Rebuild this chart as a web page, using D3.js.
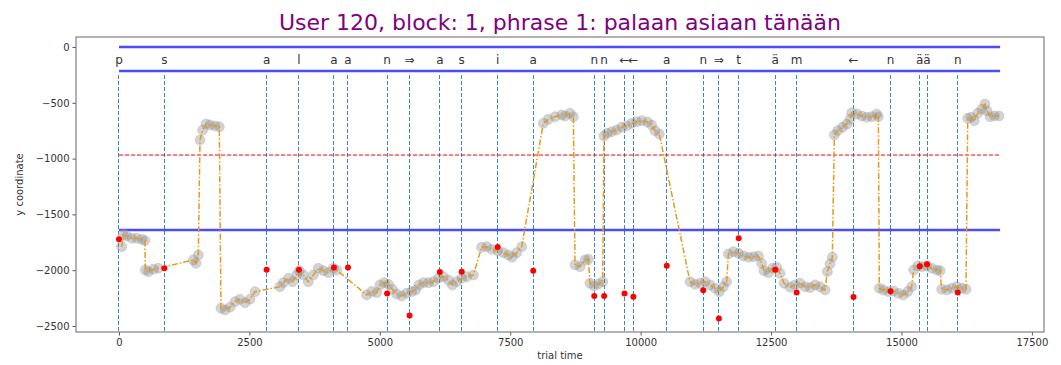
<!doctype html>
<meta charset="utf-8">
<script src="https://d3js.org/d3.v7.min.js"></script>
<style>
  body { margin: 0; background: #fff; }
  text { font-family: "DejaVu Sans", sans-serif; }
</style>
<body></body>
<script>

var width = 1061;
var height = 365;
var margin = {left: 76, right: 17, top: 37, bottom: 33};

// key presses: time, label, y of the touch
var keyTimes = [0, 870, 2830, 3450, 4120, 4390, 5140, 5570, 6150, 6570, 7260, 7940,
  9110, 9300, 9690, 9860, 10500, 11200, 11500, 11880, 12580, 12990, 14080, 14790, 15350, 15490, 16080];
var keyLabels = ["p", "s", "a", "l", "a", "a", "n", "⇒", "a", "s", "i", "a",
  "n", "n", "←", "←", "a", "n", "⇒", "t", "ä", "m", "←", "n", "ä", "ä", "n"];
var keyY = [-1722, -1983, -1995, -1995, -1977, -1977, -2210, -2405, -2016, -2013, -1792, -2004,
  -2231, -2231, -2210, -2237, -1960, -2180, -2434, -1714, -1995, -2201, -2240, -2189, -1965, -1947, -2201];

// gaze trace
var traceT = [51, 83, 147, 243, 339, 435, 498, 505, 562, 658, 754, 1425, 1476, 1521,
  1553, 1604, 1668, 1744, 1840, 1923, 1955, 2032, 2128, 2224, 2320, 2415, 2511, 2607,
  3086, 3150, 3246, 3329, 3406, 3457, 3534, 3629, 3725, 3821, 3917, 4013, 4108, 4172,
  4748, 4844, 4940, 5003, 5086, 5163, 5240, 5323, 5419, 5515, 5611, 5688, 5751, 5834,
  5930, 6025, 6121, 6217, 6313, 6390, 6473, 6569, 6665, 6793, 6952, 7048, 7144, 7259,
  7368, 7464, 7540, 7624, 7720, 8134, 8230, 8358, 8486, 8550, 8646, 8710, 8742, 8838,
  8933, 8997, 9029, 9106, 9189, 9273, 9297, 9361, 9445, 9540, 9636, 9732, 9828, 9924,
  10020, 10128, 10212, 10275, 10358, 10946, 11042, 11138, 11234, 11330, 11426, 11509,
  11585, 11649, 11681, 11777, 11873, 11969, 12065, 12160, 12256, 12320, 12364, 12448,
  12531, 12608, 12672, 12748, 12863, 12959, 13055, 13151, 13247, 13343, 13439, 13535,
  13579, 13630, 13675, 13713, 13777, 13866, 13949, 14013, 14045, 14141, 14237, 14333,
  14429, 14525, 14557, 14575, 14652, 14748, 14844, 14940, 15035, 15119, 15196, 15234,
  15311, 15400, 15484, 15580, 15676, 15739, 15771, 15867, 15963, 16059, 16155, 16237,
  16270, 16333, 16397, 16461, 16538, 16601, 16640, 16697, 16780, 16870];
var traceY = [-1789, -1684, -1693, -1714, -1714, -1723, -1735, -1998, -2013, -1992, -1983, -1908, -1938, -1864,
  -833, -744, -690, -699, -708, -714, -2341, -2356, -2332, -2282, -2261, -2291, -2261, -2193,
  -2148, -2112, -2073, -2103, -2043, -2004, -2043, -2103, -2043, -1983, -2004, -2022, -1983, -1998,
  -2222, -2192, -2201, -2132, -2112, -2126, -2171, -2213, -2231, -2207, -2192, -2177, -2132, -2112,
  -2112, -2103, -2073, -2058, -2088, -2132, -2103, -2073, -2058, -2043, -1795, -1789, -1813, -1825,
  -1843, -1864, -1884, -1843, -1789, -684, -648, -624, -609, -618, -594, -624, -1953, -1968,
  -1908, -1902, -2117, -2141, -2124, -2103, -797, -773, -759, -744, -719, -708, -684, -669,
  -660, -672, -699, -750, -780, -2103, -2126, -2117, -2103, -2132, -2162, -2192,
  -2148, -2103, -1855, -1834, -1849, -1873, -1884, -1879, -1873, -1938, -2004, -2022,
  -1983, -1974, -2028, -2117, -2153, -2132, -2117, -2148, -2156, -2132, -2148, -2177,
  -2013, -1944, -1884, -788, -750, -720, -693, -648, -589, -600, -618, -630,
  -624, -600, -624, -2162, -2177, -2192, -2186, -2207, -2222, -2192, -2148, -1998,
  -1962, -1968, -1962, -1983, -1998, -2004, -2171, -2177, -2162, -2148, -2162, -2171,
  -639, -630, -660, -594, -558, -511, -571, -624, -618, -618];

var boundaryY = [0, -215, -1640];
var midY = -968;
var lineEnd = 16890;

var xTicks = [0, 2500, 5000, 7500, 10000, 12500, 15000, 17500];
var yTicks = [0, -500, -1000, -1500, -2000, -2500];

var x = d3.scaleLinear()
        .domain([-824, 17732])
        .range([margin.left, width - margin.right]);
var y = d3.scaleLinear()
        .domain([90, -2554])
        .range([margin.top, height - margin.bottom]);

var svg = d3.select("body")
        .append("svg")
        .attr("width", width)
        .attr("height", height);

svg.append("defs").append("clipPath")
        .attr("id", "plot")
        .append("rect")
        .attr("x", margin.left)
        .attr("y", margin.top)
        .attr("width", width - margin.left - margin.right)
        .attr("height", height - margin.top - margin.bottom);

var g = svg.append("g").attr("clip-path", "url(#plot)");

// vertical key press lines
g.selectAll(".key")
        .data(keyTimes)
        .enter().append("line")
        .attr("x1", d => x(d)).attr("x2", d => x(d))
        .attr("y1", y(-250)).attr("y2", y(-2600))
        .attr("shape-rendering", "crispEdges")
        .style("stroke", "#3a86c0")
        .style("stroke-width", 1)
        .style("stroke-dasharray", "4,2");

// key labels
g.selectAll(".lab")
        .data(keyTimes)
        .enter().append("text")
        .attr("x", d => x(d))
        .attr("y", y(-110))
        .attr("dy", "0.35em")
        .attr("text-anchor", "middle")
        .style("font-size", "12px")
        .style("fill", "#333")
        .text((d, i) => keyLabels[i]);

// boundaries
g.selectAll(".bound")
        .data(boundaryY)
        .enter().append("line")
        .attr("x1", x(0)).attr("x2", x(lineEnd))
        .attr("y1", d => y(d)).attr("y2", d => y(d))
        .style("stroke", "#0000ff")
        .style("stroke-opacity", 0.7)
        .style("stroke-width", 2.5);

g.append("line")
        .attr("x1", x(0)).attr("x2", x(lineEnd))
        .attr("y1", y(midY)).attr("y2", y(midY))
        .style("stroke", "red")
        .style("stroke-width", 1)
        .style("stroke-dasharray", "4,2");

var trace = traceT.map((t, i) => [t, traceY[i]]);

g.selectAll(".gaze")
        .data(trace)
        .enter().append("circle")
        .attr("cx", d => x(d[0]))
        .attr("cy", d => y(d[1]))
        .attr("r", 5)
        .style("fill", "#6e6e6e")
        .style("fill-opacity", 0.3)
        .style("stroke", "#bbbbbb")
        .style("stroke-opacity", 0.5);

g.append("path")
        .attr("d", d3.line().x(d => x(d[0])).y(d => y(d[1]))(trace))
        .style("fill", "none")
        .style("stroke", "#e69a1c")
        .style("stroke-width", 1.5)
        .style("stroke-dasharray", "6,2,1.5,2");

g.selectAll(".press")
        .data(keyTimes)
        .enter().append("circle")
        .attr("cx", d => x(d))
        .attr("cy", (d, i) => y(keyY[i]))
        .attr("r", 3)
        .style("fill", "red");

// axes
var fmt = d => (d < 0 ? "\u2212" + Math.abs(d) : "" + d);

var xAxis = svg.append("g")
        .attr("transform", "translate(0," + (height - margin.bottom) + ")")
        .call(d3.axisBottom(x).tickValues(xTicks).tickFormat(fmt).tickSizeOuter(0).tickSize(3.5));
var yAxis = svg.append("g")
        .attr("transform", "translate(" + margin.left + ",0)")
        .call(d3.axisLeft(y).tickValues(yTicks).tickFormat(fmt).tickSizeOuter(0).tickSize(3.5));

[xAxis, yAxis].forEach(a => {
    a.select(".domain").remove();
    a.selectAll("line").style("stroke", "#555");
    a.selectAll("text").style("font-size", "10px").style("fill", "#333")
            .style("font-family", "DejaVu Sans, sans-serif");
});

svg.append("rect")
        .attr("x", margin.left)
        .attr("y", margin.top)
        .attr("width", width - margin.left - margin.right)
        .attr("height", height - margin.top - margin.bottom)
        .style("fill", "none")
        .style("stroke", "#808080")
        .style("stroke-width", 1.2);

svg.append("text")
        .attr("x", (margin.left + width - margin.right) / 2)
        .attr("y", 359)
        .attr("text-anchor", "middle")
        .style("font-size", "10px")
        .style("fill", "#333")
        .text("trial time");

svg.append("text")
        .attr("transform", "translate(23," + (margin.top + height - margin.bottom) / 2 + ") rotate(-90)")
        .attr("text-anchor", "middle")
        .style("font-size", "10px")
        .style("fill", "#333")
        .text("y coordinate");

svg.append("text")
        .attr("x", (margin.left + width - margin.right) / 2)
        .attr("y", 30)
        .attr("text-anchor", "middle")
        .style("font-size", "22px")
        .style("fill", "purple")
        .text("User 120, block: 1, phrase 1: palaan asiaan tänään");

</script>
